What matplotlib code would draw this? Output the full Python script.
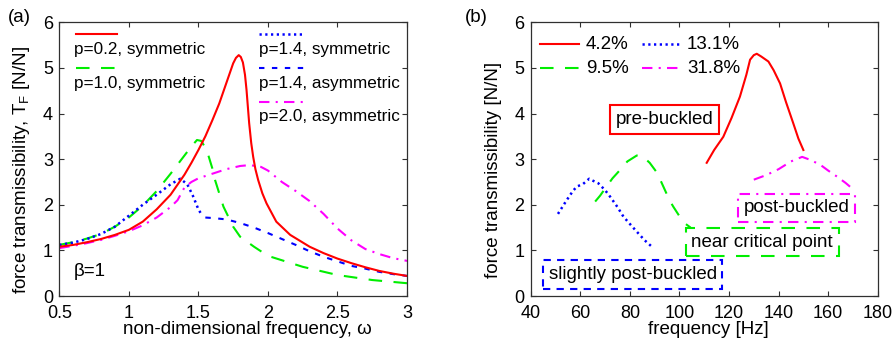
"""
Force transmissibility curves: (a) model, non-dimensional; (b) measured vs frequency.
"""

import matplotlib
matplotlib.use("Agg")
import matplotlib.pyplot as plt

plt.rcParams["font.family"] = ["Liberation Sans", "DejaVu Sans"]
plt.rcParams["mathtext.fontset"] = "custom"
plt.rcParams["mathtext.rm"] = "Liberation Sans"

# ------------------------------------------------------------------
#  DATA
# ------------------------------------------------------------------

# (a) non-dimensional frequency omega vs T_F
w_red = [0.5, 0.6, 0.7, 0.8, 0.9, 1.0, 1.1, 1.2, 1.3, 1.4, 1.45, 1.5, 1.55, 1.6,
         1.65, 1.7, 1.75, 1.77, 1.79, 1.805, 1.82, 1.835, 1.846, 1.865, 1.88,
         1.894, 1.91, 1.93, 1.96, 1.99, 2.06, 2.16, 2.3, 2.4, 2.5, 2.6, 2.7,
         2.8, 2.9, 3.0]
t_red = [1.08, 1.12, 1.18, 1.25, 1.34, 1.45, 1.63, 1.9, 2.22, 2.66, 2.92, 3.2,
         3.5, 3.85, 4.22, 4.66, 5.1, 5.22, 5.28, 5.24, 5.12, 4.85, 4.52, 3.79,
         3.35, 3.05, 2.78, 2.54, 2.25, 2.03, 1.63, 1.34, 1.08, 0.94, 0.82, 0.72,
         0.63, 0.55, 0.49, 0.44]

w_green = [0.5, 0.6, 0.7, 0.8, 0.9, 1.0, 1.1, 1.2, 1.3, 1.4, 1.45, 1.49, 1.52,
           1.56, 1.6, 1.62, 1.68, 1.75, 1.8, 1.9, 2.0, 2.25, 2.5, 2.75, 3.0]
t_green = [1.12, 1.18, 1.26, 1.36, 1.52, 1.72, 1.98, 2.3, 2.68, 3.08, 3.28, 3.42,
           3.4, 3.2, 2.8, 2.54, 1.96, 1.52, 1.3, 1.08, 0.88, 0.64, 0.46, 0.35, 0.28]

w_blue_sym = [0.5, 0.6, 0.7, 0.8, 0.9, 1.0, 1.1, 1.2, 1.3, 1.37, 1.42, 1.46, 1.5, 1.52]
t_blue_sym = [1.12, 1.17, 1.25, 1.36, 1.52, 1.76, 2.0, 2.22, 2.45, 2.57, 2.45, 2.2, 1.9, 1.8]

w_blue_asym = [1.55, 1.6, 1.7, 1.8, 1.9, 2.0, 2.1, 2.2, 2.3, 2.4, 2.5, 2.6, 2.7,
               2.8, 2.9, 3.0]
t_blue_asym = [1.72, 1.71, 1.68, 1.6, 1.5, 1.38, 1.25, 1.12, 0.98, 0.86, 0.76,
               0.66, 0.6, 0.53, 0.48, 0.44]

w_mag = [0.5, 0.6, 0.7, 0.8, 0.9, 1.0, 1.1, 1.2, 1.3, 1.35, 1.4, 1.45, 1.5, 1.6,
         1.7, 1.8, 1.87, 1.95, 2.0, 2.1, 2.2, 2.3, 2.4, 2.5, 2.6, 2.7, 2.8, 2.9, 3.0]
t_mag = [1.05, 1.1, 1.16, 1.23, 1.32, 1.42, 1.55, 1.72, 1.95, 2.1, 2.38, 2.5,
         2.58, 2.68, 2.78, 2.85, 2.87, 2.83, 2.75, 2.5, 2.3, 2.08, 1.8, 1.48,
         1.22, 1.03, 0.92, 0.83, 0.77]

labels_a = ["p=0.2, symmetric", "p=1.0, symmetric", "p=1.4, symmetric",
            "p=1.4, asymmetric", "p=2.0, asymmetric"]

# (b) measured frequency [Hz] vs T_F
f_42 = [111, 114, 117.7, 121, 124.4, 127, 128.5, 130, 131.2, 133, 135.9, 138,
        140.6, 143, 145.9, 148, 150]
t_42 = [2.92, 3.2, 3.49, 3.9, 4.37, 4.85, 5.18, 5.28, 5.31, 5.25, 5.14, 4.95,
        4.66, 4.25, 3.79, 3.45, 3.2]

f_95 = [66, 68, 70.6, 73, 76, 79, 82.8, 85, 88, 91, 93.5, 96, 97.5, 100, 102, 104.5]
t_95 = [2.07, 2.2, 2.4, 2.58, 2.76, 2.95, 3.08, 3.07, 2.92, 2.7, 2.4, 2.1, 1.96,
        1.75, 1.6, 1.5]

f_131 = [51, 54.5, 57, 58.6, 61, 63.6, 65, 67.3, 70, 72, 75, 77.4, 80, 82.8, 86, 89.5]
t_131 = [1.8, 2.1, 2.3, 2.4, 2.45, 2.57, 2.53, 2.47, 2.32, 2.18, 1.95, 1.74,
         1.58, 1.41, 1.22, 1.05]

f_318 = [130, 135, 140, 145, 149.5, 153, 157, 160, 163.5, 167, 170.5]
t_318 = [2.55, 2.65, 2.78, 2.95, 3.05, 2.98, 2.87, 2.75, 2.62, 2.48, 2.32]

labels_b = ["4.2%", "9.5%", "13.1%", "31.8%"]

RED, GREEN, BLUE, MAG = "#ff0000", "#00ee00", "#0000ff", "#ff00ff"
LW = 1.5
STYLES = {
    "solid": dict(color=RED, lw=LW, ls="-"),
    "dash": dict(color=GREEN, lw=LW, ls=(0, (6.5, 5.5))),
    "dot": dict(color=BLUE, lw=LW + 0.3, ls=(0, (0.9, 1.4))),
    "short": dict(color=BLUE, lw=LW, ls=(0, (2.6, 3.6))),
    "dashdot": dict(color=MAG, lw=LW, ls=(0, (5, 3, 1, 3))),
}


def style_axes(ax):
    for sp in ax.spines.values():
        sp.set_color("#303030")
        sp.set_linewidth(0.9)
    ax.tick_params(direction="in", top=True, right=True, length=3.5,
                   width=0.8, color="#303030", labelsize=13)
    ax.tick_params(axis="x", pad=6.5)
    ax.tick_params(axis="y", pad=4.5)
    ax.set_ylim(0, 6)
    ax.set_yticks(range(7))


def legend_entry(ax, x0, x1, y_line, x_txt, y_txt, style, text, size):
    ax.plot([x0, x1], [y_line, y_line], transform=ax.transAxes, clip_on=False, **style)
    ax.text(x_txt, y_txt, text, transform=ax.transAxes, fontsize=size,
            ha="left", va="center")


fig = plt.figure(figsize=(8.93, 3.42), dpi=100)
ax_a = fig.add_axes([0.0664, 0.1345, 0.3894, 0.8003])
ax_b = fig.add_axes([0.5943, 0.1345, 0.3886, 0.8003])

# ------------------------------------------------------------------
#  PANEL (a)
# ------------------------------------------------------------------
ax_a.plot(w_green, t_green, **STYLES["dash"])
ax_a.plot(w_mag, t_mag, **STYLES["dashdot"])
ax_a.plot(w_blue_sym, t_blue_sym, **STYLES["dot"])
ax_a.plot(w_blue_asym, t_blue_asym, **STYLES["short"])
ax_a.plot(w_red, t_red, **STYLES["solid"])

style_axes(ax_a)
ax_a.set_xlim(0.5, 3)
ax_a.set_xticks([0.5, 1, 1.5, 2, 2.5, 3])
ax_a.set_xticklabels(["0.5", "1", "1.5", "2", "2.5", "3"])
ax_a.set_xlabel("non-dimensional frequency, ω", fontsize=13.5)
ax_a.xaxis.set_label_coords(0.54, -0.09)
ax_a.set_ylabel("force transmissibility, T$_\\mathrm{F}$ [N/N]", fontsize=13.5)
ax_a.yaxis.set_label_coords(-0.078, 0.46)

legend_entry(ax_a, 0.048, 0.166, 0.956, 0.042, 0.899, STYLES["solid"], labels_a[0], 12.3)
legend_entry(ax_a, 0.048, 0.166, 0.832, 0.042, 0.777, STYLES["dash"], labels_a[1], 12.3)
legend_entry(ax_a, 0.574, 0.704, 0.956, 0.575, 0.899, STYLES["dot"], labels_a[2], 12.3)
legend_entry(ax_a, 0.574, 0.704, 0.832, 0.575, 0.777, STYLES["short"], labels_a[3], 12.3)
legend_entry(ax_a, 0.574, 0.704, 0.710, 0.575, 0.654, STYLES["dashdot"], labels_a[4], 12.3)
ax_a.text(0.042, 0.088, "β=1", transform=ax_a.transAxes, fontsize=13.5,
          ha="left", va="center")

# ------------------------------------------------------------------
#  PANEL (b)
# ------------------------------------------------------------------
ax_b.plot(f_42, t_42, **STYLES["solid"])
ax_b.plot(f_95, t_95, **STYLES["dash"])
ax_b.plot(f_131, t_131, **STYLES["dot"])
ax_b.plot(f_318, t_318, **STYLES["dashdot"])

style_axes(ax_b)
ax_b.set_xlim(40, 180)
ax_b.set_xticks(range(40, 181, 20))
ax_b.set_xlabel("frequency [Hz]", fontsize=13.5)
ax_b.xaxis.set_label_coords(0.512, -0.09)
ax_b.set_ylabel("force transmissibility [N/N]", fontsize=13.5)
ax_b.yaxis.set_label_coords(-0.082, 0.46)

legend_entry(ax_b, 0.027, 0.140, 0.920, 0.159, 0.918, STYLES["solid"], labels_b[0], 13.5)
legend_entry(ax_b, 0.027, 0.140, 0.834, 0.159, 0.832, STYLES["dash"], labels_b[1], 13.5)
legend_entry(ax_b, 0.320, 0.428, 0.920, 0.450, 0.918, STYLES["dot"], labels_b[2], 13.5)
legend_entry(ax_b, 0.320, 0.428, 0.834, 0.450, 0.832, STYLES["dashdot"], labels_b[3], 13.5)

notes = [
    (93.9, 3.87, "pre-buckled", RED, "-"),
    (147.4, 1.93, "post-buckled", MAG, (0, (5, 3, 1, 3))),
    (133.4, 1.18, "near critical point", GREEN, (0, (6.5, 5.5))),
    (81.1, 0.47, "slightly post-buckled", BLUE, (0, (3.5, 3))),
]
for fx, ty, txt, col, ls in notes:
    ax_b.text(fx, ty, txt, fontsize=13.5, ha="center", va="center",
              bbox=dict(boxstyle="square,pad=0.3", fc="none", ec=col, lw=1.5, ls=ls))

fig.text(0.009, 0.95, "(a)", fontsize=13.5, ha="left", va="center")
fig.text(0.521, 0.95, "(b)", fontsize=13.5, ha="left", va="center")

plt.savefig("out.png", dpi=100)
plt.close()
